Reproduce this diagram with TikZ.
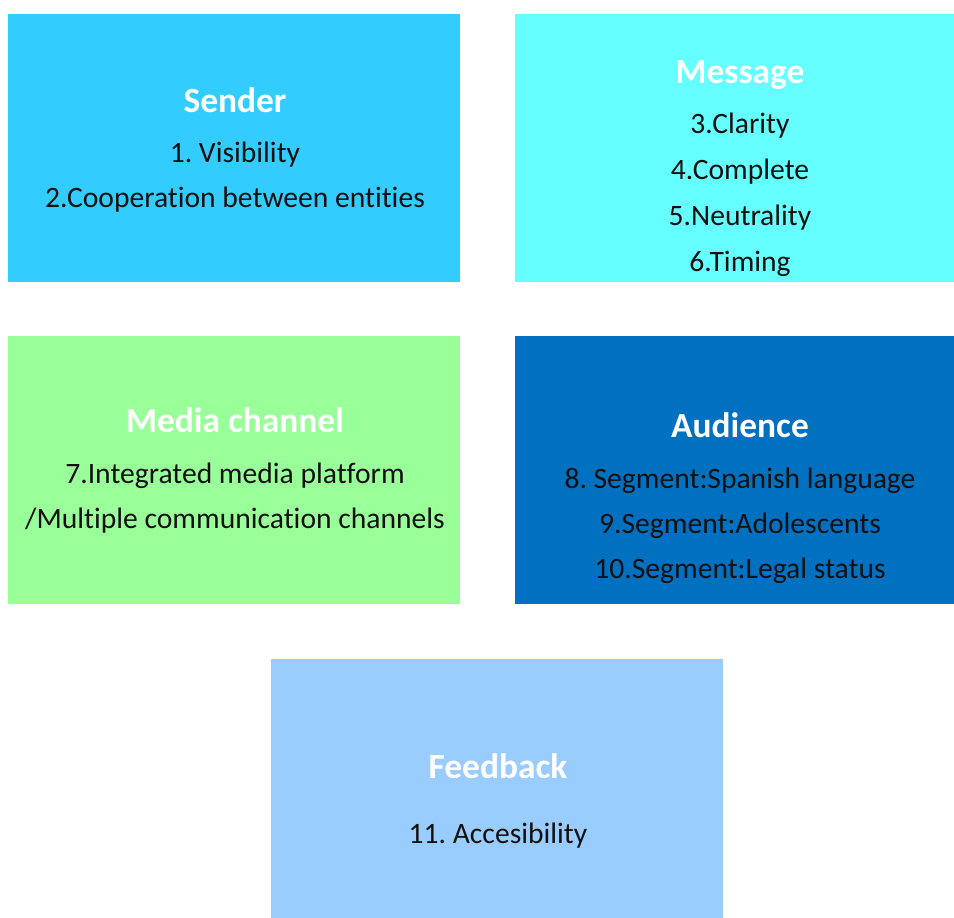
\documentclass[tikz,border=0pt]{standalone}
\usepackage{fontspec}
\setmainfont[Ligatures=NoCommon]{Carlito}
\frenchspacing
\definecolor{senderc}{HTML}{33CCFF}
\definecolor{messagec}{HTML}{66FFFF}
\definecolor{mediac}{HTML}{99FF99}
\definecolor{audiencec}{HTML}{0070C0}
\definecolor{feedbackc}{HTML}{99CCFF}
\definecolor{txtc}{HTML}{111111}
\tikzset{
  ttl/.style={anchor=base, inner sep=0pt, text=white, font=\fontsize{35.4}{40}\selectfont\bfseries},
  itm/.style={anchor=base, inner sep=0pt, text=txtc, font=\fontsize{29.6}{34}\selectfont},
}
\begin{document}
\begin{tikzpicture}[x=1pt,y=-1pt]
\frenchspacing
\useasboundingbox (0,0) rectangle (954,918);
% boxes
\fill[senderc]   (8,14)   rectangle (460,282);
\fill[messagec]  (515,14) rectangle (954,282);
\fill[mediac]    (8,336)  rectangle (460,604);
\fill[audiencec] (515,336) rectangle (954,604);
\fill[feedbackc] (271,659) rectangle (723,918);
% Sender
\node[ttl] (st) at (235,112) {Sender};
\node[itm] (s1) at (235,162) {1. Visibility};
\node[itm] (s2) at (235,207) {2.Cooperation between entities};
% Message
\node[ttl] (mt) at (740,83) {Message};
\node[itm] (m3) at (740,133) {3.Clarity};
\node[itm] (m4) at (740,179) {4.Complete};
\node[itm] (m5) at (740,225) {5.Neutrality};
\node[itm] (m6) at (740,271) {6.Timing};
% Media channel
\node[ttl] (ct) at (235,432) {Media channel};
\node[itm] (c7) at (235,483) {7.Integrated media platform};
\node[itm] (c7b) at (235,528) {/Multiple communication channels};
% Audience
\node[ttl] (at) at (740,437) {Audience};
\node[itm] (a8) at (740,488) {8. Segment:Spanish language};
\node[itm] (a9) at (740,533) {9.Segment:Adolescents};
\node[itm] (a10) at (740,578) {10.Segment:Legal status};
% Feedback
\node[ttl] (ft) at (498,778) {Feedback};
\node[itm] (f11) at (498,843) {11. Accesibility};
\end{tikzpicture}
\end{document}
